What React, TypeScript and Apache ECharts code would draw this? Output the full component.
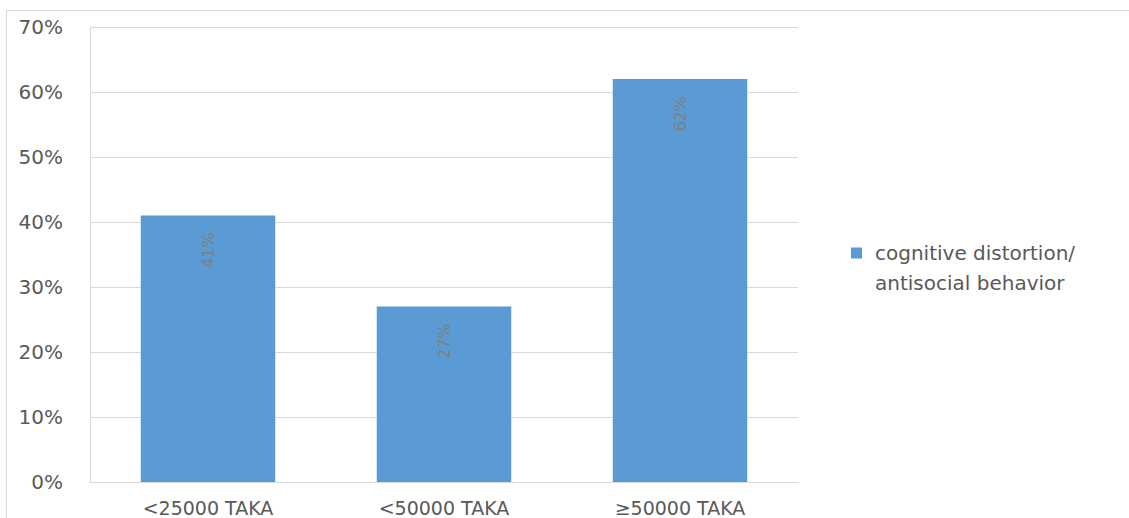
import React, { useEffect, useRef } from "react";
import * as echarts from "echarts";

const categories = ["<25000 TAKA", "<50000 TAKA", "≥50000 TAKA"];
const values = [0.41, 0.27, 0.62];
const valueLabels = ["41%", "27%", "62%"];
const seriesName = "cognitive distortion/ antisocial behavior";
const legendLines = ["cognitive distortion/", "antisocial behavior"];

export default function App() {
  const ref = useRef<HTMLDivElement>(null);
  useEffect(() => {
    if (!ref.current) return;
    const chart = echarts.init(ref.current, null, { renderer: "svg" });
    chart.setOption({
      animation: false,
      backgroundColor: "#ffffff",
      textStyle: { fontFamily: "DejaVu Sans" },
      grid: { left: 90, right: 331, top: 27, bottom: 36, containLabel: false },
      legend: {
        left: 846,
        top: 203,
        orient: "vertical",
        itemWidth: 11,
        itemHeight: 11,
        icon: "rect",
        data: [seriesName],
        formatter: () => "\n" + legendLines.join("\n"),
        textStyle: {
          color: "#595959",
          fontSize: 20,
          lineHeight: 30,
          fontFamily: "DejaVu Sans",
          padding: [0, 0, 0, 8],
        },
      },
      xAxis: {
        type: "category",
        data: categories,
        axisLine: { lineStyle: { color: "#d9d9d9", width: 1 } },
        axisTick: { show: false },
        axisLabel: {
          color: "#595959",
          fontSize: 19,
          margin: 16,
          fontFamily: "DejaVu Sans",
        },
      },
      yAxis: {
        type: "value",
        min: 0,
        max: 0.7,
        interval: 0.1,
        axisLine: { show: true, lineStyle: { color: "#d9d9d9", width: 1 } },
        axisTick: { show: false },
        splitLine: { lineStyle: { color: "#d9d9d9", width: 1 } },
        axisLabel: {
          color: "#595959",
          fontSize: 20,
          margin: 27,
          fontFamily: "DejaVu Sans",
          formatter: (v: number) => Math.round(v * 100) + "%",
        },
      },
      series: [
        {
          name: seriesName,
          type: "bar",
          data: values,
          barCategoryGap: "43%",
          itemStyle: { color: "#5b9bd5" },
          label: {
            show: true,
            position: "insideTop",
            distance: 17,
            rotate: 90,
            align: "right",
            verticalAlign: "middle",
            color: "#7f7f7f",
            fontSize: 16,
            fontFamily: "DejaVu Sans",
            formatter: (p: any) => valueLabels[p.dataIndex],
          },
        },
      ],
      graphic: [
        {
          type: "line",
          shape: { x1: 6, y1: 10.5, x2: 1129, y2: 10.5 },
          style: { stroke: "#d9d9d9", lineWidth: 1 },
          silent: true,
        },
        {
          type: "line",
          shape: { x1: 6.5, y1: 10, x2: 6.5, y2: 518 },
          style: { stroke: "#d9d9d9", lineWidth: 1 },
          silent: true,
        },
      ],
    });
    return () => chart.dispose();
  }, []);
  return (
    <div
      ref={ref}
      style={{ position: "fixed", left: 0, top: 0, width: 1129, height: 518 }}
    />
  );
}
